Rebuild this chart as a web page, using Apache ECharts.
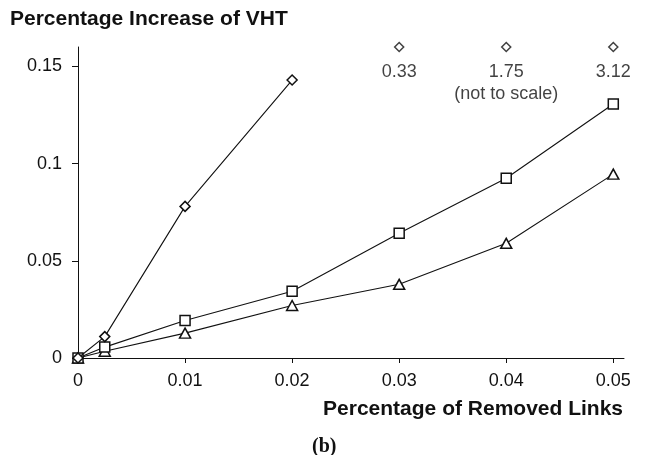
<!DOCTYPE html>
<html>
<head>
<meta charset="utf-8">
<script src="https://cdn.jsdelivr.net/npm/echarts@6/dist/echarts.min.js"></script>
<style>html,body{margin:0;padding:0;background:#fff;}#c{width:647px;height:455px;}</style>
</head>
<body>
<div id="c"></div>
<script>
// Data
const xValues = [0, 0.0025, 0.01, 0.02, 0.03, 0.04, 0.05];
const diamondValues = [0, 0.011, 0.078, 0.143];
const squareValues = [0, 0.0056, 0.0193, 0.0343, 0.0642, 0.0925, 0.1307];
const triangleValues = [0, 0.0035, 0.0128, 0.027, 0.0379, 0.059, 0.0946];
const offScaleX = [0.03, 0.04, 0.05];
const offScaleLabels = ['0.33', '1.75\n(not to scale)', '3.12'];
const xTicks = [0, 0.01, 0.02, 0.03, 0.04, 0.05];
const yTicks = [0, 0.05, 0.1, 0.15];
const yTop = 0.16;
const xRight = 0.051;

const ink = '#111';
const font = 'Liberation Sans, Arial, Helvetica, sans-serif';

function pairs(vals) { return vals.map((v, i) => [xValues[i], v]); }

const markerStyle = { color: '#fff', borderColor: ink, borderWidth: 1.5 };

const chart = echarts.init(document.getElementById('c'), null, { renderer: 'canvas' });
chart.setOption({
  animation: false,
  backgroundColor: '#fff',
  title: [
    { text: 'Percentage Increase of VHT', left: 5, top: 4,
      textStyle: { fontFamily: font, fontSize: 21, fontWeight: 'bold', color: ink } },
    { text: 'Percentage of Removed Links', right: 19, top: 394,
      textStyle: { fontFamily: font, fontSize: 21, fontWeight: 'bold', color: ink } },
    { text: '(b)', left: 307, top: 432,
      textStyle: { fontFamily: 'Liberation Serif, Times New Roman, serif', fontSize: 20, fontWeight: 'bold', color: ink } }
  ],
  grid: { left: 78, right: 23, top: 47, bottom: 97, containLabel: false },
  xAxis: {
    type: 'value', min: 0, max: xRight,
    axisLine: { show: true, lineStyle: { color: ink, width: 1 } },
    axisTick: { show: true, length: 5, customValues: xTicks, lineStyle: { color: ink } },
    axisLabel: { customValues: xTicks, margin: 14, fontFamily: font, fontSize: 18, color: ink },
    splitLine: { show: false }
  },
  yAxis: {
    type: 'value', min: 0, max: yTop,
    axisLine: { show: true, lineStyle: { color: ink, width: 1 } },
    axisTick: { show: true, length: 6, customValues: yTicks, lineStyle: { color: ink } },
    axisLabel: { customValues: yTicks, margin: 16, fontFamily: font, fontSize: 18, color: ink },
    splitLine: { show: false }
  },
  series: [
    { type: 'line', data: pairs(triangleValues), symbol: 'triangle', symbolSize: [11, 10],
      showAllSymbol: true, lineStyle: { color: ink, width: 1.1 }, itemStyle: markerStyle, z: 3 },
    { type: 'line', data: pairs(squareValues), symbol: 'rect', symbolSize: 10,
      showAllSymbol: true, lineStyle: { color: ink, width: 1.1 }, itemStyle: markerStyle, z: 4 },
    { type: 'line', data: pairs(diamondValues), symbol: 'diamond', symbolSize: 10,
      showAllSymbol: true, lineStyle: { color: ink, width: 1.1 }, itemStyle: markerStyle, z: 5 },
    { type: 'scatter', data: offScaleX.map((x, i) => ({ value: [x, yTop], label: { formatter: offScaleLabels[i] } })),
      symbol: 'diamond', symbolSize: 9, clip: false, itemStyle: markerStyle,
      label: { show: true, position: 'bottom', distance: 9, fontFamily: font, fontSize: 18,
               lineHeight: 22, color: ink, align: 'center' }, z: 5 }
  ]
});
</script>
</body>
</html>
